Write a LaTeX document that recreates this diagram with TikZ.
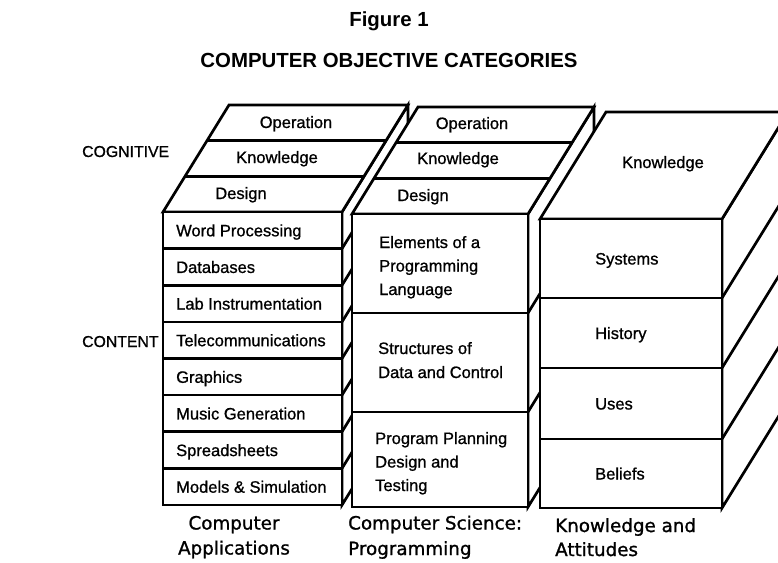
\documentclass[tikz,border=0pt]{standalone}
\usepackage{fontspec}
\setmainfont{Liberation Sans}
\newfontfamily\labfont[FakeBold=0.9]{Liberation Sans}
\newfontfamily\capfontfam[FakeBold=1.1]{DejaVu Sans}
\begin{document}
\begin{tikzpicture}[x=1pt,y=-1pt,
  face/.style={draw=black, fill=white, line width=2.7pt, line join=miter},
  edge/.style={draw=black, line width=2.7pt},
  lbl/.style={font=\labfont\fontsize{16.5}{20}\selectfont, inner sep=0pt, anchor=base west},
  sidelbl/.style={font=\labfont\fontsize{15.8}{20}\selectfont, inner sep=0pt, anchor=base west},
  toplbl/.style={font=\labfont\fontsize{16.5}{20}\selectfont, inner sep=0pt, anchor=base},
  caption/.style={font=\capfontfam\fontsize{18.3}{22}\selectfont, inner sep=0pt},
  ttl/.style={font=\bfseries\fontsize{20.4}{24}\selectfont, inner sep=0pt, anchor=base}]
\useasboundingbox (0,0) rectangle (778,562);
\clip (0,0) rectangle (778,562);
\def\DX{66}\def\DY{107}
% ---------- block 1 : Computer Applications ----------
\def\La{163}\def\Ra{342}\def\Ta{212}\def\Ba{505}\def\H{36.625}
\path[face] (\Ra,\Ta) -- ++(\DX,-\DY) -- ++(0,{\Ba-\Ta}) -- (\Ra,\Ba) -- cycle;
\foreach \k in {1,...,7} \draw[edge] (\Ra,{\Ta+\k*\H}) -- ++(\DX,-\DY);
\path[face] (\La,\Ta) -- (\Ra,\Ta) -- ++(\DX,-\DY) -- ({\La+\DX},{\Ta-\DY}) -- cycle;
\foreach \f in {1,2} \draw[edge] ({\La+\f*\DX/3},{\Ta-\f*\DY/3}) -- ({\Ra+\f*\DX/3},{\Ta-\f*\DY/3});
\path[face] (\La,\Ta) rectangle (\Ra,\Ba);
\foreach \k in {1,...,7} \draw[edge] (\La,{\Ta+\k*\H}) -- (\Ra,{\Ta+\k*\H});
% ---------- block 2 : Programming ----------
\def\Lb{352}\def\Rb{528}\def\Tb{214}\def\Bb{507}
\path[face] (\Rb,\Tb) -- ++(\DX,-\DY) -- ++(0,{\Bb-\Tb}) -- (\Rb,\Bb) -- cycle;
\foreach \y in {313,412} \draw[edge] (\Rb,\y) -- ++(\DX,-\DY);
\path[face] (\Lb,\Tb) -- (\Rb,\Tb) -- ++(\DX,-\DY) -- ({\Lb+\DX},{\Tb-\DY}) -- cycle;
\foreach \f in {1,2} \draw[edge] ({\Lb+\f*\DX/3},{\Tb-\f*\DY/3}) -- ({\Rb+\f*\DX/3},{\Tb-\f*\DY/3});
\path[face] (\Lb,\Tb) rectangle (\Rb,\Bb);
\foreach \y in {313,412} \draw[edge] (\Lb,\y) -- (\Rb,\y);
% ---------- block 3 : Knowledge and Attitudes ----------
\def\Lc{540}\def\Rc{722}\def\Tc{219}\def\Bc{508}
\path[face] (\Rc,\Tc) -- ++(\DX,-\DY) -- ++(0,{\Bc-\Tc}) -- (\Rc,\Bc) -- cycle;
\foreach \y in {298,368,439} \draw[edge] (\Rc,\y) -- ++(\DX,-\DY);
\path[face] (\Lc,\Tc) -- (\Rc,\Tc) -- ++(\DX,-\DY) -- ({\Lc+\DX},{\Tc-\DY}) -- cycle;
\path[face] (\Lc,\Tc) rectangle (\Rc,\Bc);
\foreach \y in {298,368,439} \draw[edge] (\Lc,\y) -- (\Rc,\y);
% ---------- titles ----------
\node[ttl] (fig) at (389,27) {Figure 1};
\node[ttl] (title) at (389,67) {COMPUTER OBJECTIVE CATEGORIES};
\node[sidelbl] (cog) at (82,157) {COGNITIVE};
\node[sidelbl] (con) at (82,347) {CONTENT};
% ---------- block 1 labels ----------
\node[toplbl] (op1) at (296,128) {Operation};
\node[toplbl] (kn1) at (277,163) {Knowledge};
\node[toplbl] (de1) at (241,199) {Design};
\foreach \t [count=\k] in {Word Processing,Databases,Lab Instrumentation,Telecommunications,Graphics,Music Generation,Spreadsheets,Models \& Simulation}
  \node[lbl] (app\k) at (176,{\Ta+(\k-0.5)*\H+6}) {\t};
% ---------- block 2 labels ----------
\node[toplbl] (op2) at (472,129) {Operation};
\node[toplbl] (kn2) at (458,164) {Knowledge};
\node[toplbl] (de2) at (423,201) {Design};
\node[lbl] (pa1) at (379,248) {Elements of a};
\node[lbl] (pa2) at (379,271.5) {Programming};
\node[lbl] (pa3) at (379,295) {Language};
\node[lbl] (pb1) at (378,354) {Structures of};
\node[lbl] (pb2) at (378,378) {Data and Control};
\node[lbl] (pc1) at (375,444) {Program Planning};
\node[lbl] (pc2) at (375,467.5) {Design and};
\node[lbl] (pc3) at (375,491) {Testing};
% ---------- block 3 labels ----------
\node[toplbl] (kn3) at (663,168) {Knowledge};
\node[lbl] (ka1) at (595,264.5) {Systems};
\node[lbl] (ka2) at (595,339) {History};
\node[lbl] (ka3) at (595,409.5) {Uses};
\node[lbl] (ka4) at (595,479.5) {Beliefs};
% ---------- captions ----------
\node[caption, anchor=base] (c1a) at (234,529.5) {Computer};
\node[caption, anchor=base] (c1b) at (234,554.5) {Applications};
\node[caption, anchor=base west] (c2a) at (348,529.5) {Computer Science:};
\node[caption, anchor=base west] (c2b) at (348,555) {Programming};
\node[caption, anchor=base west] (c3a) at (555,532) {Knowledge and};
\node[caption, anchor=base west] (c3b) at (555,556) {Attitudes};
\end{tikzpicture}
\end{document}
